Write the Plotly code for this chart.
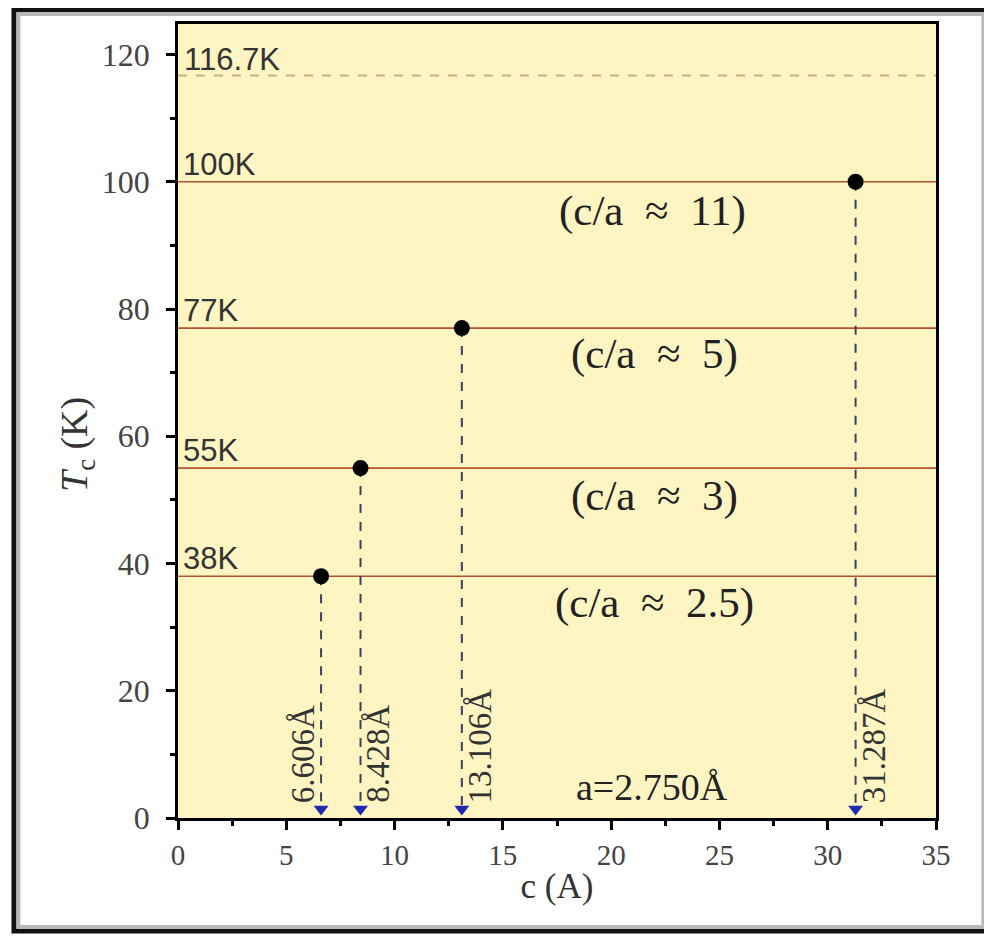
import plotly.graph_objects as go

# Data
tc_levels = [38, 55, 77, 100]
tc_labels = ["38K", "55K", "77K", "100K"]
limit_level = 116.7
limit_label = "116.7K"
c_values = [6.606, 8.428, 13.106, 31.287]
c_labels = ["6.606Å", "8.428Å", "13.106Å", "31.287Å"]
ratio_labels = ["(c/a\u00a0\u00a0≈\u00a0 2.5)", "(c/a\u00a0\u00a0≈\u00a0 3)", "(c/a\u00a0\u00a0≈\u00a0 5)", "(c/a\u00a0\u00a0≈\u00a0 11)"]
ratio_pos_x = [22.0, 22.0, 22.0, 21.9]
ratio_pos_y = [33.8, 50.6, 72.9, 95.4]
a_label = "a=2.750Å"

serif = "Liberation Serif, Times New Roman, serif"
sans = "Liberation Sans, Arial, sans-serif"

fig = go.Figure()

# vertical dashed drop lines
for c, t in zip(c_values, tc_levels):
    fig.add_trace(go.Scatter(x=[c, c], y=[t, 1.5], mode="lines",
                             line=dict(color="#3e4258", width=2, dash="dash"),
                             hoverinfo="skip", showlegend=False))
# blue arrowheads
fig.add_trace(go.Scatter(x=c_values, y=[1.4] * len(c_values), mode="markers",
                         marker=dict(symbol="triangle-down", size=13, color="#1f2ab0"),
                         showlegend=False, hoverinfo="skip"))
# points
fig.add_trace(go.Scatter(x=c_values, y=tc_levels, mode="markers",
                         marker=dict(color="black", size=16),
                         showlegend=False))

# horizontal lines
for t, lab in zip(tc_levels, tc_labels):
    fig.add_hline(y=t, line=dict(color="#b4532e", width=1.6), layer="below")
    fig.add_annotation(x=0, y=t, text=lab, showarrow=False, xanchor="left",
                       yanchor="bottom", xshift=3, yshift=-2,
                       font=dict(family=sans, size=31, color="#333333"))
fig.add_hline(y=limit_level, line=dict(color="#c8b286", width=2, dash="dash"), layer="below")
fig.add_annotation(x=0, y=limit_level, text=limit_label, showarrow=False, xanchor="left",
                   yanchor="bottom", xshift=4, yshift=-3,
                   font=dict(family=sans, size=31, color="#333333"))

# ratio labels
for x, y, lab in zip(ratio_pos_x, ratio_pos_y, ratio_labels):
    fig.add_annotation(x=x, y=y, text=lab, showarrow=False,
                       font=dict(family=serif, size=43, color="#222222"))

fig.add_annotation(x=21.9, y=4.8, text=a_label, showarrow=False,
                   font=dict(family=serif, size=38, color="#222222"))

# rotated c labels
for i, (c, lab) in enumerate(zip(c_values, c_labels)):
    shift = -18 if i == 0 else 18
    fig.add_annotation(x=c, y=2.0, text=lab, showarrow=False, textangle=-90,
                       xanchor="center", yanchor="bottom", xshift=shift,
                       font=dict(family=serif, size=33, color="#333333"))

# y-axis title
fig.add_annotation(xref="paper", yref="paper", x=-0.133, y=0.47, text="<i>T</i><sub>c</sub> (K)",
                   showarrow=False, textangle=-90, xanchor="center", yanchor="middle",
                   font=dict(family=serif, size=38, color="#333333"))

# outer frame
fig.add_shape(type="rect", xref="paper", yref="paper",
              x0=-0.2164, x1=1.0686, y0=-0.1423, y1=1.0176,
              line=dict(color="#111111", width=5), layer="below")
fig.add_shape(type="rect", xref="paper", yref="paper",
              x0=-0.2105, x1=1.0626, y0=-0.1373, y1=1.0126,
              line=dict(color="#b8b8b8", width=4), layer="below")

fig.update_layout(
    width=984, height=929,
    margin=dict(l=170, r=56, t=16, b=119),
    paper_bgcolor="white",
    plot_bgcolor="#fff5c2",
    showlegend=False,
    font=dict(family=serif, color="#333333"),
)
fig.update_xaxes(range=[0, 35], dtick=5, tick0=0, ticks="outside", ticklen=9, tickwidth=2.5,
                 tickcolor="black", showline=True, linecolor="black", linewidth=2.5, mirror=True,
                 showgrid=False, zeroline=False,
                 minor=dict(dtick=2.5, ticks="outside", ticklen=5, tickwidth=2.5, tickcolor="black"),
                 tickfont=dict(family=serif, size=29, color="#444444"),
                 title=dict(text="c (A)", font=dict(family=serif, size=35, color="#333333"), standoff=4))
fig.update_yaxes(range=[0, 124.8], dtick=20, tick0=0, ticks="outside", ticklen=9, tickwidth=2.5,
                 tickcolor="black", showline=True, linecolor="black", linewidth=2.5, mirror=True,
                 showgrid=False, zeroline=False, ticklabelstandoff=10,
                 minor=dict(dtick=10, ticks="outside", ticklen=5, tickwidth=2.5, tickcolor="black"),
                 tickfont=dict(family=serif, size=32, color="#444444"))

fig.write_html("out.html")
